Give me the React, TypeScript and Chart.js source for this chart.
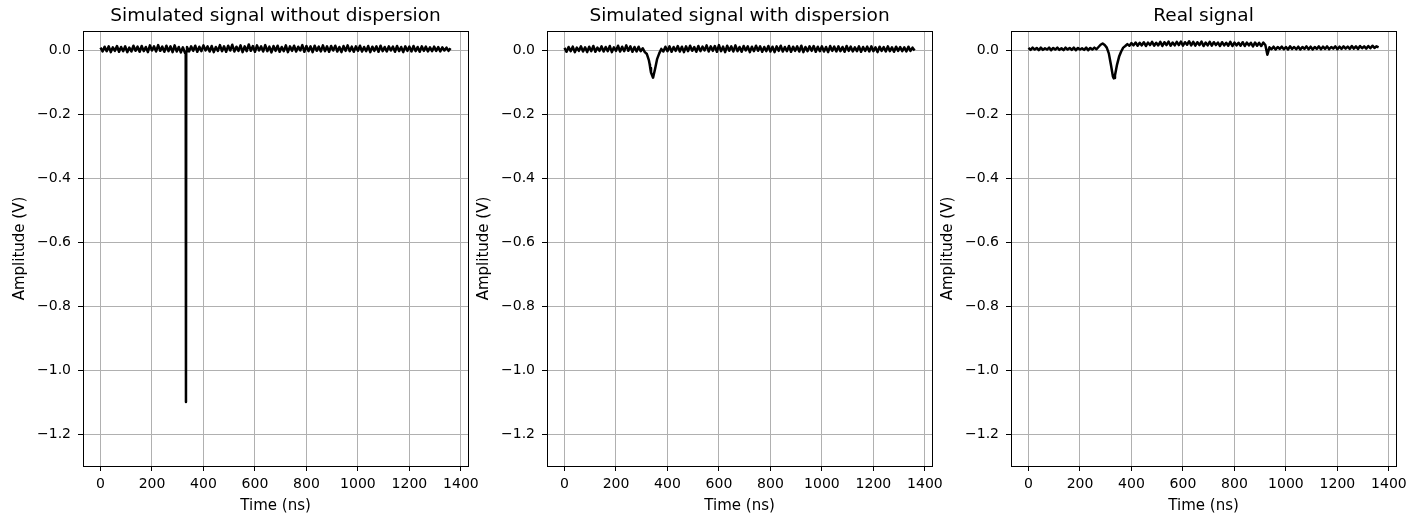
import React, { useEffect, useRef } from 'react';
import { Chart, registerables } from 'chart.js';

Chart.register(...registerables);

// ---------- data ----------
const timeNs = [
  0, 8, 16, 24, 32, 40, 48, 56, 64, 72, 80, 88, 96, 104, 112, 120, 128, 136, 144, 152, 160,
  168, 176, 184, 192, 200, 208, 216, 224, 232, 240, 248, 256, 264, 272, 280, 288, 296, 304,
  312, 320, 328,
  331, 332, 333,
  336, 344, 352, 360, 368, 376, 384, 392, 400, 408, 416, 424, 432, 440, 448, 456, 464, 472,
  480, 488, 496, 504, 512, 520, 528, 536, 544, 552, 560, 568, 576, 584, 592, 600, 608, 616,
  624, 632, 640, 648, 656, 664, 672, 680, 688, 696, 704, 712, 720, 728, 736, 744, 752, 760,
  768, 776, 784, 792, 800, 808, 816, 824, 832, 840, 848, 856, 864, 872, 880, 888, 896, 904,
  912, 920, 928, 936, 944, 952, 960, 968, 976, 984, 992, 1000, 1008, 1016, 1024, 1032, 1040,
  1048, 1056, 1064, 1072, 1080, 1088, 1096, 1104, 1112, 1120, 1128, 1136, 1144, 1152, 1160,
  1168, 1176, 1184, 1192, 1200, 1208, 1216, 1224, 1232, 1240, 1248, 1256, 1264, 1272, 1280,
  1288, 1296, 1304, 1312, 1320, 1328, 1336, 1344, 1352, 1360,
];

const noDispersionV = [
  0.008, -0.004, 0.011, -0.003, 0.012, -0.006, 0.009, -0.002, 0.013, -0.005,
  0.010, -0.003, 0.012, -0.006, 0.008, -0.004, 0.014, -0.002, 0.011, -0.005,
  0.013, -0.003, 0.010, -0.006, 0.015, -0.001, 0.012, -0.004, 0.016, -0.002,
  0.011, -0.005, 0.014, -0.003, 0.012, -0.006, 0.015, -0.004, 0.010, -0.007,
  0.009, -0.008,
  -0.006, -1.100, -0.004,
  0.010,
  -0.004, 0.012, -0.002, 0.014, -0.005, 0.011, -0.003, 0.015, -0.001, 0.012,
  -0.004, 0.013, -0.006, 0.010, -0.002, 0.016, -0.003, 0.012, -0.005, 0.014,
  -0.001, 0.017, -0.004, 0.011, -0.002, 0.015, -0.006, 0.012, -0.003, 0.018,
  -0.002, 0.013, -0.005, 0.015, -0.001, 0.012, -0.004, 0.016, -0.003, 0.011,
  -0.007, 0.013, -0.002, 0.014, -0.005, 0.010, -0.003, 0.015, -0.006, 0.012,
  -0.002, 0.014, -0.004, 0.011, -0.001, 0.016, -0.005, 0.013, -0.003, 0.012,
  -0.006, 0.014, -0.002, 0.011, -0.004, 0.015, -0.003, 0.012, -0.005, 0.013,
  -0.001, 0.014, -0.004, 0.010, -0.006, 0.013, -0.002, 0.015, -0.003, 0.011,
  -0.005, 0.012, -0.002, 0.014, -0.004, 0.010, -0.003, 0.013, -0.006, 0.011,
  -0.002, 0.012, -0.005, 0.014, -0.003, 0.010, -0.004, 0.012, -0.001, 0.011,
  -0.005, 0.013, -0.003, 0.010, -0.006, 0.012, -0.002, 0.011, -0.004, 0.013,
  -0.003, 0.010, -0.005, 0.012, -0.002, 0.011, -0.004, 0.009, -0.003, 0.011,
  -0.002, 0.010, -0.004, 0.009, -0.001, 0.008, -0.002, 0.006,
];

const withDispersionV = [
  0.007, -0.005, 0.010, -0.003, 0.011, -0.006, 0.008, -0.002, 0.012, -0.004,
  0.009, -0.006, 0.011, -0.003, 0.013, -0.005, 0.008, -0.002, 0.012, -0.004,
  0.010, -0.003, 0.013, -0.006, 0.009, -0.002, 0.014, -0.004, 0.011, -0.003,
  0.015, -0.002, 0.012, -0.005, 0.010, -0.004, 0.011, -0.003, 0.006, -0.006,
  -0.012, -0.032,
  -0.045, -0.050, -0.056,
  -0.070,
  -0.086, -0.058, -0.027, -0.010, 0.004, -0.004, 0.011, -0.003, 0.012, -0.005,
  0.010, -0.002, 0.013, -0.004, 0.011, -0.006, 0.012, -0.003, 0.014, -0.002,
  0.010, -0.005, 0.013, -0.003, 0.011, -0.001, 0.015, -0.004, 0.012, -0.002,
  0.013, -0.005, 0.016, -0.003, 0.011, -0.006, 0.014, -0.002, 0.012, -0.004,
  0.015, -0.003, 0.010, -0.005, 0.013, -0.001, 0.012, -0.006, 0.011, -0.003,
  0.014, -0.002, 0.012, -0.005, 0.010, -0.003, 0.013, -0.004, 0.011, -0.006,
  0.012, -0.002, 0.014, -0.004, 0.010, -0.003, 0.013, -0.005, 0.011, -0.002,
  0.012, -0.004, 0.014, -0.006, 0.010, -0.003, 0.012, -0.002, 0.013, -0.005,
  0.011, -0.003, 0.012, -0.004, 0.010, -0.006, 0.013, -0.002, 0.011, -0.004,
  0.012, -0.003, 0.010, -0.005, 0.013, -0.002, 0.011, -0.004, 0.009, -0.003,
  0.012, -0.005, 0.010, -0.002, 0.011, -0.004, 0.012, -0.003, 0.009, -0.006,
  0.011, -0.002, 0.010, -0.004, 0.012, -0.003, 0.009, -0.005, 0.011, -0.002,
  0.010, -0.003, 0.009, -0.004, 0.011, -0.002, 0.008, -0.001,
];

const realSignalV = [
  0.007, 0.001, 0.008, 0.002, 0.007, 0.000, 0.008, 0.001, 0.006, 0.002,
  0.008, 0.000, 0.007, 0.002, 0.008, 0.001, 0.006, 0.000, 0.008, 0.002,
  0.007, 0.001, 0.008, 0.000, 0.007, 0.002, 0.006, 0.001, 0.008, 0.000,
  0.007, 0.002, 0.008, 0.003, 0.010, 0.017, 0.021, 0.016, 0.008, -0.010,
  -0.045, -0.082,
  -0.088, -0.088, -0.087,
  -0.078,
  -0.045, -0.020, -0.004, 0.008, 0.013, 0.019, 0.014, 0.022, 0.015, 0.024,
  0.014, 0.023, 0.015, 0.025, 0.013, 0.024, 0.016, 0.026, 0.014, 0.023,
  0.015, 0.026, 0.013, 0.025, 0.016, 0.027, 0.014, 0.024, 0.015, 0.026,
  0.016, 0.027, 0.014, 0.025, 0.017, 0.028, 0.015, 0.026, 0.014, 0.025,
  0.016, 0.027, 0.013, 0.024, 0.015, 0.026, 0.014, 0.025, 0.016, 0.024,
  0.013, 0.025, 0.015, 0.023, 0.014, 0.026, 0.013, 0.024, 0.015, 0.023,
  0.014, 0.025, 0.013, 0.024, 0.015, 0.023, 0.012, 0.024, 0.014, 0.023,
  0.013, 0.024, 0.016, -0.014, 0.009, 0.003, 0.011, 0.002, 0.010, 0.004,
  0.011, 0.003, 0.010, 0.002, 0.012, 0.004, 0.010, 0.003, 0.011, 0.002,
  0.010, 0.004, 0.012, 0.003, 0.011, 0.002, 0.010, 0.004, 0.012, 0.003,
  0.011, 0.004, 0.012, 0.003, 0.010, 0.005, 0.012, 0.003, 0.011, 0.004,
  0.012, 0.005, 0.011, 0.004, 0.013, 0.005, 0.012, 0.004, 0.013, 0.006,
  0.012, 0.005, 0.013, 0.006, 0.014, 0.007, 0.012, 0.009,
];

const panelTitles = [
  'Simulated signal without dispersion',
  'Simulated signal with dispersion',
  'Real signal',
];
const panelSeries = [noDispersionV, withDispersionV, realSignalV];

const xTicks = [0, 200, 400, 600, 800, 1000, 1200, 1400];
const xTickLabels = ['0', '200', '400', '600', '800', '1000', '1200', '1400'];
const yTicks = [-1.2, -1.0, -0.8, -0.6, -0.4, -0.2, 0.0];
const yTickLabels = ['\u22121.2', '\u22121.0', '\u22120.8', '\u22120.6', '\u22120.4', '\u22120.2', '0.0'];
const xAxisLabel = 'Time (ns)';
const yAxisLabel = 'Amplitude (V)';

const X_MIN = -68;
const X_MAX = 1428;
const Y_MIN = -1.3;
const Y_MAX = 0.06;

// ---------- layout ----------
const FONT = "'DejaVu Sans', 'Liberation Sans', sans-serif";
const CANVAS_W = 484;
const CANVAS_H = 518;
const canvasLefts = [0, 464, 928];
const rightPads = [14, 15, 15];

const framePlugin = {
  id: 'frame',
  afterDraw(chart: any) {
    const { ctx, chartArea } = chart;
    const { left, top, right, bottom } = chartArea;
    ctx.save();
    ctx.strokeStyle = '#000';
    ctx.lineWidth = 1;
    ctx.strokeRect(Math.round(left) + 0.5, Math.round(top) + 0.5, Math.round(right - left), Math.round(bottom - top));
    ctx.restore();
  },
};

function Panel({ idx }: { idx: number }) {
  const ref = useRef<HTMLCanvasElement | null>(null);
  useEffect(() => {
    const values = panelSeries[idx];
    const points = timeNs.map((t, i) => ({ x: t, y: values[i] }));
    const chart = new Chart(ref.current as HTMLCanvasElement, {
      type: 'line',
      data: {
        datasets: [
          {
            data: points,
            borderColor: '#000',
            borderWidth: 2.5,
            pointRadius: 0,
            tension: 0,
            borderJoinStyle: 'round',
            fill: false,
          },
        ],
      },
      options: {
        animation: false,
        responsive: false,
        devicePixelRatio: 1,
        layout: { padding: { left: 0, right: rightPads[idx], top: 0, bottom: 0 } },
        plugins: {
          legend: { display: false },
          tooltip: { enabled: false },
          title: {
            display: true,
            fullSize: false,
            text: panelTitles[idx],
            color: '#000',
            font: { family: FONT, size: 18.5, weight: 'normal', lineHeight: 1.2 },
            padding: { top: 4.7, bottom: 4.1 },
          },
        },
        scales: {
          x: {
            type: 'linear',
            min: X_MIN,
            max: X_MAX,
            afterBuildTicks: (s: any) => {
              s.ticks = xTicks.map((v) => ({ value: v }));
            },
            afterFit: (s: any) => {
              s.height = 52;
            },
            ticks: {
              color: '#000',
              font: { family: FONT, size: 14 },
              padding: 5,
              maxRotation: 0,
              autoSkip: false,
              callback: (v: any) => xTickLabels[xTicks.indexOf(v)] ?? '',
            },
            grid: { color: '#b0b0b0', lineWidth: 1, tickColor: '#000', tickLength: 5, tickWidth: 1 },
            border: { display: false },
            title: {
              display: true,
              text: xAxisLabel,
              color: '#000',
              font: { family: FONT, size: 15 },
              padding: { top: 0, bottom: 2.5 },
            },
          },
          y: {
            type: 'linear',
            min: Y_MIN,
            max: Y_MAX,
            afterBuildTicks: (s: any) => {
              s.ticks = yTicks.map((v) => ({ value: v }));
            },
            afterFit: (s: any) => {
              s.width = 83;
            },
            ticks: {
              color: '#000',
              font: { family: FONT, size: 14 },
              padding: 7,
              autoSkip: false,
              callback: (v: any) => yTickLabels[yTicks.indexOf(v)] ?? '',
            },
            grid: { color: '#b0b0b0', lineWidth: 1, tickColor: '#000', tickLength: 5, tickWidth: 1 },
            border: { display: false },
            title: {
              display: true,
              text: yAxisLabel,
              color: '#000',
              font: { family: FONT, size: 15 },
              padding: { top: 11, bottom: 0 },
            },
          },
        },
      },
      plugins: [framePlugin],
    } as any);
    return () => chart.destroy();
  }, [idx]);
  return (
    <canvas
      ref={ref}
      width={CANVAS_W}
      height={CANVAS_H}
      style={{ position: 'absolute', left: canvasLefts[idx], top: 0, width: CANVAS_W, height: CANVAS_H }}
    />
  );
}

export default function App() {
  return (
    <div style={{ position: 'absolute', left: 0, top: 0, width: 1412, height: 518, background: '#fff', overflow: 'hidden' }}>
      {panelTitles.map((_, i) => (
        <Panel key={i} idx={i} />
      ))}
    </div>
  );
}
